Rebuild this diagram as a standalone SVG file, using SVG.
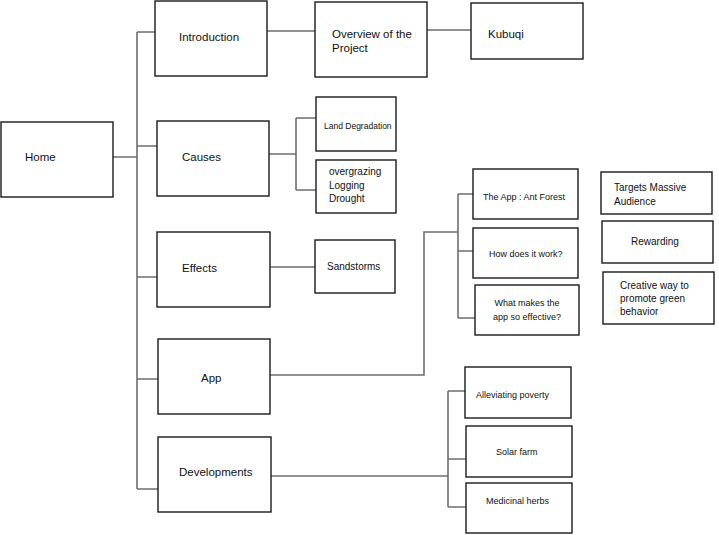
<svg xmlns="http://www.w3.org/2000/svg" width="719" height="535" viewBox="0 0 719 535">
<style>
.box{fill:#fff;stroke:#1a1a1a;stroke-width:1.4}
.c{fill:none;stroke:#6e6e6e;stroke-width:1.6}
text{font-family:"Liberation Sans",Arial,sans-serif;fill:#111}
.l{font-size:11.5px}
.m{font-size:10px}
.s{font-size:9px}
.xs{font-size:8.5px}
</style>
<rect width="719" height="535" fill="#fff"/>
<g id="connectors">
<path class="c" d="M113,157 H137 M137,32 V489 M137,32 H155 M137,146 H157 M137,277 H157 M137,379 H158 M137,489 H158"/>
<path class="c" d="M267,31 H315 M427,30 H471"/>
<path class="c" d="M269,154 H296 M296,118 V190 M296,118 H316 M296,190 H316"/>
<path class="c" d="M270,267 H315"/>
<path class="c" d="M270,375 H424 V232 H458 M458,194 V318 M458,194 H473 M458,251 H473 M458,318 H475"/>
<path class="c" d="M271,476 H448 M448,391 V507 M448,391 H465 M448,459 H466 M448,507 H466"/>
</g>
<g id="home"><rect class="box" x="1" y="122" width="112" height="75"/><text class="l" x="25" y="161">Home</text></g>
<g id="introduction"><rect class="box" x="155" y="1" width="112" height="75"/><text class="l" x="179" y="41">Introduction</text></g>
<g id="overview"><rect class="box" x="315" y="2" width="112" height="75"/><text class="l" x="332" y="38">Overview of the</text><text class="l" x="332" y="52">Project</text></g>
<g id="kubuqi"><rect class="box" x="471" y="3" width="112" height="56"/><text class="l" x="488" y="38">Kubuqi</text></g>
<g id="causes"><rect class="box" x="157" y="121" width="112" height="75"/><text class="l" x="182" y="161">Causes</text></g>
<g id="land-degradation"><rect class="box" x="316" y="97" width="80" height="54"/><text class="xs" x="324" y="129">Land Degradation</text></g>
<g id="overgrazing"><rect class="box" x="316" y="160" width="80" height="53"/><text class="m" x="329" y="175">overgrazing</text><text class="m" x="329" y="189">Logging</text><text class="m" x="329" y="202">Drought</text></g>
<g id="effects"><rect class="box" x="157" y="232" width="113" height="75"/><text class="l" x="182" y="272">Effects</text></g>
<g id="sandstorms"><rect class="box" x="315" y="240" width="80" height="53"/><text class="m" x="327" y="270">Sandstorms</text></g>
<g id="app"><rect class="box" x="158" y="339" width="112" height="75"/><text class="l" x="201" y="382">App</text></g>
<g id="ant-forest"><rect class="box" x="473" y="169" width="105" height="50"/><text class="s" x="483" y="200">The App : Ant Forest</text></g>
<g id="how-work"><rect class="box" x="473" y="228" width="105" height="50"/><text class="s" x="489" y="257">How does it work?</text></g>
<g id="what-makes"><rect class="box" x="475" y="285" width="104" height="50"/><text class="s" x="527" y="306" text-anchor="middle">What makes the</text><text class="s" x="527" y="320" text-anchor="middle">app so effective?</text></g>
<g id="targets"><rect class="box" x="601" y="172" width="111" height="42"/><text class="m" x="614" y="191">Targets Massive</text><text class="m" x="614" y="205">Audience</text></g>
<g id="rewarding"><rect class="box" x="602" y="221" width="111" height="42"/><text class="m" x="631" y="245">Rewarding</text></g>
<g id="creative"><rect class="box" x="603" y="272" width="111" height="52"/><text class="m" x="620" y="289">Creative way to</text><text class="m" x="620" y="302">promote green</text><text class="m" x="620" y="315">behavior</text></g>
<g id="developments"><rect class="box" x="158" y="437" width="113" height="75"/><text class="l" x="179" y="476">Developments</text></g>
<g id="alleviating"><rect class="box" x="465" y="367" width="106" height="51"/><text class="s" x="476" y="398">Alleviating poverty</text></g>
<g id="solar"><rect class="box" x="466" y="426" width="106" height="51"/><text class="s" x="496" y="455">Solar farm</text></g>
<g id="medicinal"><rect class="box" x="466" y="483" width="106" height="50"/><text class="s" x="486" y="504">Medicinal herbs</text></g>
</svg>
